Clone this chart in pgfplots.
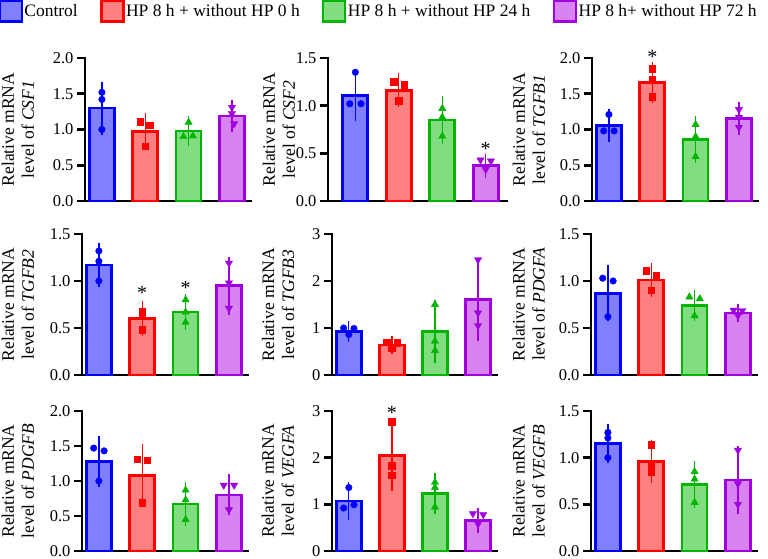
\documentclass[border=0pt]{standalone}
\usepackage{fontspec}
\setmainfont{Liberation Serif}
\usepackage{pgfplots}
\pgfplotsset{compat=1.18}
\definecolor{cB}{HTML}{0000FF}\definecolor{fB}{HTML}{8080FF}
\definecolor{cR}{HTML}{FF0000}\definecolor{fR}{HTML}{FF8080}
\definecolor{cG}{HTML}{00B400}\definecolor{fG}{HTML}{80DE80}
\definecolor{cP}{HTML}{A000E0}\definecolor{fP}{HTML}{D884F0}
\newcommand\labfont{\fontsize{17.5}{20}\selectfont}
\newcommand\tickfont{\fontsize{16.5}{18}\selectfont}
\newcommand\astfont{\fontsize{20}{22}\selectfont}
\pgfplotsset{
  panel/.style={scale only axis, width=166pt, height=142pt, anchor=south west,
    axis x line=bottom, axis y line=left,
    axis line style={line width=2.8pt,-, line cap=rect},
    xmin=-0.39, xmax=3.44, xtick=\empty, ymin=0,
    tick align=outside, major tick length=8pt,
    y tick style={line width=2.6pt, black},
    yticklabel style={font=\tickfont, /pgf/number format/fixed,
      /pgf/number format/fixed zerofill, /pgf/number format/precision=1},
    /pgf/number format/assume math mode=true,
    ylabel style={font=\labfont, align=center, anchor=center},
    clip=false},
  intpanel/.style={yticklabel style={/pgf/number format/precision=0,
      /pgf/number format/fixed zerofill=false}},
  barst/.style 2 args={ybar, bar width=25pt, bar shift=0pt, line width=2.8pt,
    draw=#1, fill=#2,
    error bars/y dir=both, error bars/y explicit,
    error bars/error bar style={line width=1.3pt, draw=#1},
    error bars/error mark options={line width=1.3pt, draw=#1, mark size=6.5pt}},
  bB/.style={barst={cB}{fB}}, bR/.style={barst={cR}{fR}},
  bG/.style={barst={cG}{fG}}, bP/.style={barst={cP}{fP}},
  ptB/.style={only marks, mark=*, mark size=3.3pt, cB, mark options={fill=cB, solid, line width=0.4pt}},
  ptR/.style={only marks, mark=square*, mark size=3.2pt, cR, mark options={fill=cR, solid, line width=0.4pt}},
  ptG/.style={only marks, mark=triangle*, mark size=4.2pt, cG, mark options={fill=cG, solid, line width=0.4pt}},
  ptP/.style={only marks, mark=triangle*, mark size=4.2pt, cP, mark options={fill=cP, rotate=180, solid, line width=0.4pt}},
}
\begin{document}
\begin{tikzpicture}
\useasboundingbox (0,0) rectangle (768pt,559pt);
% ---------------- CSF1
\begin{axis}[panel, at={(85pt,358pt)}, height=143pt, ymax=2, ytick={0,0.5,1,1.5,2},
  ylabel={Relative mRNA\\level of \textit{CSF1}},
  ylabel style={at={(axis description cs:-0.404,0.5)}},
  legend columns=4,
  legend cell align=left,
  legend image code/.code={\draw[#1, line width=2.2pt] (0pt,-10.5pt) rectangle (22pt,10.5pt);},
  legend style={at={(axis description cs:-0.52,1.41)}, anchor=north west, draw=none, fill=none,
    font=\labfont, inner sep=0pt, outer sep=0pt, nodes={inner sep=1.5pt},
    /tikz/every even column/.append style={column sep=21pt}}]
\addlegendimage{draw=cB, fill=fB}\addlegendentry{Control}
\addlegendimage{draw=cR, fill=fR}\addlegendentry{HP 8 h + without HP 0 h}
\addlegendimage{draw=cG, fill=fG}\addlegendentry{HP 8 h + without HP 24 h}
\addlegendimage{draw=cP, fill=fP}\addlegendentry{HP 8 h+ without HP 72 h}
\addplot[bB] coordinates {(0,1.30) +- (0,0.28)};
\addplot[bR] coordinates {(1,0.97) +- (0,0.17)};
\addplot[bG] coordinates {(2,0.98) +- (0,0.12)};
\addplot[bP] coordinates {(3,1.19) +- (0,0.13)};
\addplot[ptB] coordinates {(0,1.52) (0,1.42) (0,1.00)};
\addplot[ptR] coordinates {(0.88,1.11) (1.10,1.06) (1,0.77)};
\addplot[ptG] coordinates {(2,1.10) (1.88,0.90) (2.10,0.91)};
\addplot[ptP] coordinates {(3,1.31) (3,1.22) (3.05,1.08)};
\end{axis}
% ---------------- CSF2
\begin{axis}[panel, at={(328pt,358pt)}, height=143pt, width=179pt, xmin=-0.63, xmax=3.49,
  ymax=1.5, ytick={0,0.5,1,1.5},
  ylabel={Relative mRNA\\level of \textit{CSF2}},
  ylabel style={at={(axis description cs:-0.274,0.5)}}]
\addplot[bB] coordinates {(0,1.11) +- (0,0.20)};
\addplot[bR] coordinates {(1,1.16) +- (0,0.11)};
\addplot[bG] coordinates {(2,0.85) +- (0,0.18)};
\addplot[bP] coordinates {(3,0.37) +- (0,0.06)};
\addplot[ptB] coordinates {(0,1.35) (-0.13,1.02) (0.13,1.02)};
\addplot[ptR] coordinates {(0.88,1.25) (1.12,1.22) (1,1.05)};
\addplot[ptG] coordinates {(2,0.97) (2,0.88) (2,0.68)};
\addplot[ptP] coordinates {(2.88,0.43) (3.12,0.42) (3,0.33)};
\node[font=\astfont, inner sep=0pt, yshift=-3pt] at (axis cs:3,0.58) {*};
\end{axis}
% ---------------- TGFB1
\begin{axis}[panel, at={(592pt,358pt)}, height=143pt, ymax=2, ytick={0,0.5,1,1.5,2},
  ylabel={Relative mRNA\\level of \textit{TGFB1}},
  ylabel style={at={(axis description cs:-0.38,0.5)}}]
\addplot[bB] coordinates {(0,1.06) +- (0,0.14)};
\addplot[bR] coordinates {(1,1.66) +- (0,0.20)};
\addplot[bG] coordinates {(2,0.86) +- (0,0.24)};
\addplot[bP] coordinates {(3,1.15) +- (0,0.14)};
\addplot[ptB] coordinates {(0,1.21) (-0.12,0.98) (0.12,0.98)};
\addplot[ptR] coordinates {(1,1.85) (1,1.70) (1,1.46)};
\addplot[ptG] coordinates {(2,1.07) (2,0.90) (2,0.62)};
\addplot[ptP] coordinates {(3,1.28) (3,1.17) (3,1.03)};
\node[font=\astfont, inner sep=0pt, yshift=-3pt] at (axis cs:1,2.06) {*};
\end{axis}
% ---------------- TGFB2
\begin{axis}[panel, at={(82pt,184pt)}, height=141pt, ymax=1.5, ytick={0,0.5,1,1.5},
  ylabel={Relative mRNA\\level of \textit{TGFB2}},
  ylabel style={at={(axis description cs:-0.386,0.5)}}]
\addplot[bB] coordinates {(0,1.17) +- (0,0.17)};
\addplot[bR] coordinates {(1,0.60) +- (0,0.12)};
\addplot[bG] coordinates {(2,0.67) +- (0,0.12)};
\addplot[bP] coordinates {(3,0.95) +- (0,0.24)};
\addplot[ptB] coordinates {(0,1.32) (0,1.21) (0,1.00)};
\addplot[ptR] coordinates {(1,0.68) (1,0.63) (1,0.48)};
\addplot[ptG] coordinates {(2,0.80) (2,0.67) (2,0.56)};
\addplot[ptP] coordinates {(3,1.19) (3,0.98) (3,0.71)};
\node[font=\astfont, inner sep=0pt, yshift=-3pt] at (axis cs:1,0.90) {*};
\node[font=\astfont, inner sep=0pt, yshift=-3pt] at (axis cs:2,0.96) {*};
\end{axis}
% ---------------- TGFB3
\begin{axis}[panel, intpanel, at={(332pt,184pt)}, width=165pt, height=141pt, ymax=3, ytick={0,1,2,3},
  ylabel={Relative mRNA\\level of \textit{TGFB3}},
  ylabel style={at={(axis description cs:-0.327,0.5)}}]
\addplot[bB] coordinates {(0,0.93) +- (0,0.08)};
\addplot[bR] coordinates {(1,0.64) +- (0,0.06)};
\addplot[bG] coordinates {(2,0.92) +- (0,0.53)};
\addplot[bP] coordinates {(3,1.60) +- (0,0.73)};
\addplot[ptB] coordinates {(-0.12,1.00) (0.12,0.99) (0,0.86)};
\addplot[ptR] coordinates {(0.88,0.70) (1.12,0.69) (1,0.58)};
\addplot[ptG] coordinates {(2,1.50) (2,0.72) (2,0.52)};
\addplot[ptP] coordinates {(3,2.45) (3,1.32) (3,1.05)};
\end{axis}
% ---------------- PDGFA
\begin{axis}[panel, at={(591pt,184pt)}, height=141pt, ymax=1.5, ytick={0,0.5,1,1.5},
  ylabel={Relative mRNA\\level of \textit{PDGFA}},
  ylabel style={at={(axis description cs:-0.375,0.5)}}]
\addplot[bB] coordinates {(0,0.87) +- (0,0.23)};
\addplot[bR] coordinates {(1,1.01) +- (0,0.11)};
\addplot[bG] coordinates {(2,0.74) +- (0,0.10)};
\addplot[bP] coordinates {(3,0.66) +- (0,0.03)};
\addplot[ptB] coordinates {(-0.12,1.03) (0.12,1.00) (0,0.62)};
\addplot[ptR] coordinates {(0.88,1.11) (1.12,1.06) (1,0.90)};
\addplot[ptG] coordinates {(1.88,0.83) (2.12,0.81) (2,0.63)};
\addplot[ptP] coordinates {(2.9,0.69) (3.1,0.685) (3,0.63)};
\end{axis}
% ---------------- PDGFB
\begin{axis}[panel, at={(82pt,8pt)}, height=140pt, ymax=2, ytick={0,0.5,1,1.5,2},
  ylabel={Relative mRNA\\level of \textit{PDGFB}},
  ylabel style={at={(axis description cs:-0.386,0.5)}}]
\addplot[bB] coordinates {(0,1.28) +- (0,0.27)};
\addplot[bR] coordinates {(1,1.08) +- (0,0.36)};
\addplot[bG] coordinates {(2,0.67) +- (0,0.22)};
\addplot[bP] coordinates {(3,0.80) +- (0,0.20)};
\addplot[ptB] coordinates {(-0.12,1.47) (0.12,1.43) (0,1.00)};
\addplot[ptR] coordinates {(0.88,1.31) (1.12,1.30) (1,0.69)};
\addplot[ptG] coordinates {(2,0.87) (2,0.73) (2,0.45)};
\addplot[ptP] coordinates {(2.88,0.94) (3.12,0.94) (3,0.59)};
\end{axis}
% ---------------- VEGFA
\begin{axis}[panel, intpanel, at={(332pt,8pt)}, width=165pt, height=140pt, ymax=3, ytick={0,1,2,3},
  ylabel={Relative mRNA\\level of \textit{VEGFA}},
  ylabel style={at={(axis description cs:-0.327,0.5)}}]
\addplot[bB] coordinates {(0,1.07) +- (0,0.26)};
\addplot[bR] coordinates {(1,2.05) +- (0,0.62)};
\addplot[bG] coordinates {(2,1.23) +- (0,0.30)};
\addplot[bP] coordinates {(3,0.66) +- (0,0.13)};
\addplot[ptB] coordinates {(0,1.36) (0.12,0.99) (-0.12,0.92)};
\addplot[ptR] coordinates {(1,2.77) (1,1.83) (1,1.63)};
\addplot[ptG] coordinates {(2,1.47) (2,1.36) (2,0.94)};
\addplot[ptP] coordinates {(2.88,0.80) (3.12,0.78) (3,0.58)};
\node[font=\astfont, inner sep=0pt, yshift=-3pt] at (axis cs:1,3.03) {*};
\end{axis}
% ---------------- VEGFB
\begin{axis}[panel, at={(591pt,8pt)}, height=140pt, ymax=1.5, ytick={0,0.5,1,1.5},
  ylabel={Relative mRNA\\level of \textit{VEGFB}},
  ylabel style={at={(axis description cs:-0.375,0.5)}}]
\addplot[bB] coordinates {(0,1.15) +- (0,0.14)};
\addplot[bR] coordinates {(1,0.96) +- (0,0.16)};
\addplot[bG] coordinates {(2,0.71) +- (0,0.18)};
\addplot[bP] coordinates {(3,0.76) +- (0,0.29)};
\addplot[ptB] coordinates {(0,1.27) (0,1.21) (0,1.00)};
\addplot[ptR] coordinates {(1,1.14) (1,0.92) (1,0.85)};
\addplot[ptG] coordinates {(2,0.85) (2,0.77) (2,0.52)};
\addplot[ptP] coordinates {(3,1.08) (3,0.72) (3,0.50)};
\end{axis}
\end{tikzpicture}
\end{document}
